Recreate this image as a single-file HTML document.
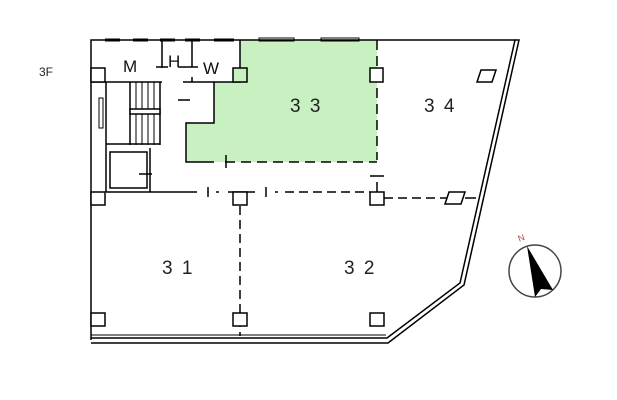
<!DOCTYPE html>
<html><head><style>
html,body{margin:0;padding:0;background:#fff;}
svg{display:block}
text{font-family:"Liberation Sans",sans-serif;}
</style></head><body>
<svg width="617" height="400" viewBox="0 0 617 400" xmlns="http://www.w3.org/2000/svg">
<rect width="617" height="400" fill="#fff"/>
<polygon points="240,40 377,40 377,162 186,162 186,123 214,123 214,82 240,82" fill="#c8f0c0"/>
<g fill="none" stroke="#000" stroke-width="1.5">
<polyline points="91,340 91,40 515,40 460,283 387,338 91,338"/>
<polyline points="91,343 388,343 464,285 519,40 515,40"/>
<line x1="91" y1="335" x2="386" y2="335" stroke-width="1"/>
<g stroke-width="3">
<line x1="105" y1="40" x2="120" y2="40"/><line x1="133" y1="40" x2="148" y2="40"/>
<line x1="160" y1="40" x2="175" y2="40"/><line x1="185" y1="40" x2="200" y2="40"/>
<line x1="214" y1="40" x2="234" y2="40"/>
</g>
<rect x="259" y="38" width="35" height="3" stroke-width="1"/>
<rect x="321" y="38" width="38" height="3" stroke-width="1"/>
<line x1="91" y1="82" x2="162" y2="82"/>
<line x1="183" y1="82" x2="214" y2="82"/>
<line x1="162" y1="40" x2="162" y2="68"/><line x1="192" y1="40" x2="192" y2="67"/>
<line x1="156" y1="67" x2="168" y2="67"/><line x1="178" y1="67" x2="198" y2="67"/>
<line x1="192" y1="77" x2="192" y2="82"/>
<polyline points="240,40 240,82 214,82 214,123 186,123 186,162 214,162"/>
<line x1="226" y1="155" x2="226" y2="168"/>
<line x1="225" y1="162" x2="377" y2="162" stroke-dasharray="10,6"/>
<line x1="377" y1="40" x2="377" y2="160" stroke-dasharray="10,6"/>
<line x1="370" y1="176" x2="384" y2="176"/>
<line x1="377" y1="182" x2="377" y2="192"/>
<line x1="178" y1="100" x2="190" y2="100"/>
<line x1="130" y1="82" x2="130" y2="145"/><line x1="160" y1="82" x2="160" y2="145"/>
<line x1="136" y1="82" x2="136" y2="145" stroke-width="1"/><line x1="142" y1="82" x2="142" y2="145" stroke-width="1"/>
<line x1="148" y1="82" x2="148" y2="145" stroke-width="1"/><line x1="154" y1="82" x2="154" y2="145" stroke-width="1"/>
<rect x="130" y="109" width="30" height="5" fill="#fff"/>
<line x1="106" y1="144" x2="160" y2="144"/>
<line x1="106" y1="82" x2="106" y2="192"/>
<rect x="99" y="98" width="4" height="30" stroke-width="1"/>
<rect x="110" y="152" width="37" height="36"/>
<line x1="139" y1="174" x2="152" y2="174"/>
<line x1="150" y1="148" x2="150" y2="192"/>
<line x1="106" y1="192" x2="197" y2="192"/>
<line x1="208" y1="187" x2="208" y2="197"/>
<line x1="216" y1="192" x2="219" y2="192"/>
<line x1="228" y1="192" x2="255" y2="192"/>
<line x1="266" y1="187" x2="266" y2="197"/>
<line x1="275" y1="192" x2="278" y2="192"/>
<line x1="285" y1="192" x2="370" y2="192" stroke-dasharray="9,5"/>
<line x1="384" y1="198" x2="450" y2="198" stroke-dasharray="9,5"/>
<line x1="465" y1="198" x2="476" y2="198"/>
<line x1="240" y1="206" x2="240" y2="336" stroke-dasharray="9,5"/>
<g fill="#fff">
<rect x="91" y="68" width="14" height="14"/>
<rect x="233" y="68" width="14" height="14" fill="#c8f0c0"/>
<rect x="370" y="68" width="13" height="14"/>
<rect x="91" y="192" width="14" height="13"/>
<rect x="233" y="192" width="14" height="13"/>
<rect x="370" y="192" width="14" height="13"/>
<rect x="91" y="313" width="14" height="13"/>
<rect x="233" y="313" width="14" height="13"/>
<rect x="370" y="313" width="14" height="13"/>
<polygon points="449,192 465,192 461,204 445,204"/>
<polygon points="481,70 496,70 492,82 477,82"/>
</g>
</g>
<text x="39" y="76" font-size="12" fill="#222">3F</text>
<text x="123" y="72" font-size="17" fill="#111">M</text>
<text x="168" y="67" font-size="17" fill="#111">H</text>
<text x="203" y="74" font-size="17" fill="#111">W</text>
<text x="290" y="112" font-size="19" fill="#222" letter-spacing="2">3 3</text>
<text x="424" y="112" font-size="19" fill="#222" letter-spacing="2">3 4</text>
<text x="162" y="274" font-size="19" fill="#222" letter-spacing="2">3 1</text>
<text x="344" y="274" font-size="19" fill="#222" letter-spacing="2">3 2</text>
<circle cx="535" cy="271" r="26" fill="none" stroke="#444" stroke-width="1.5"/>
<polygon points="527,246 553,290 541,289 535,297" fill="#000"/>
<text x="518" y="241" font-size="9" fill="#c04040" transform="rotate(-20 521 238)">N</text>
</svg>
</body></html>
